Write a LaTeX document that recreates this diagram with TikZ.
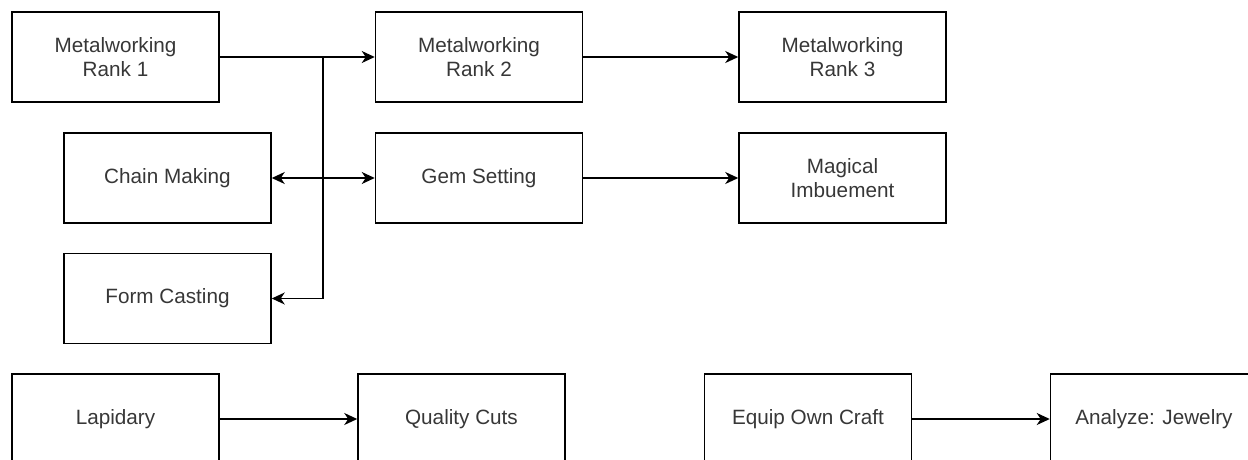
\documentclass[tikz,border=0pt]{standalone}
\usepackage{fontspec}
\setmainfont{Liberation Sans}
\usetikzlibrary{arrows.meta}
\definecolor{txtc}{RGB}{55,55,55}
\definecolor{linec}{RGB}{0,0,0}
\tikzset{
  box/.style={draw=linec, line width=1.5pt, minimum width=207pt, minimum height=90pt,
    inner sep=0pt, align=center, text=txtc, font=\fontsize{20.7}{24}\selectfont},
  conn/.style={draw=linec, line width=1.5pt, -{Stealth[length=13pt,width=12pt,inset=4pt]}},
  conn2/.style={draw=linec, line width=1.5pt, {Stealth[length=13pt,width=12pt,inset=4pt]}-{Stealth[length=13pt,width=12pt,inset=4pt]}}
}
\begin{document}
\begin{tikzpicture}[x=1pt,y=-1pt]
\useasboundingbox (0,0) rectangle (1248,459);
\clip (0,0) rectangle (1248,459);
\node[box] (mr1) at (115.5,57) {Metalworking\\Rank 1};
\node[box] (mr2) at (479,57) {Metalworking\\Rank 2};
\node[box] (mr3) at (842.5,57) {Metalworking\\Rank 3};
\node[box] (cm) at (167.5,178) {Chain Making};
\node[box] (gs) at (479,178) {Gem Setting};
\node[box] (mi) at (842.5,178) {Magical\\Imbuement};
\node[box] (fc) at (167.5,298.5) {Form Casting};
\node[box] (lap) at (115.5,419) {Lapidary};
\node[box] (qc) at (461.5,419) {Quality Cuts};
\node[box] (eoc) at (808,419) {Equip Own Craft};
\node[box] (aj) at (1154,419) {Analyze: Jewelry};
\coordinate (j) at (323,57);
\coordinate (jm) at (323,178);
\draw[conn] (mr1.east) -- (mr2.west);
\draw[conn] (mr2.east) -- (mr3.west);
\draw[conn] (gs.east) -- (mi.west);
\draw[line width=1.5pt] (j) -- (jm);
\draw[conn2] (cm.east) -- (gs.west);
\draw[conn] (jm) |- (fc.east);
\draw[conn] (lap.east) -- (qc.west);
\draw[conn] (eoc.east) -- (aj.west);
\end{tikzpicture}
\end{document}
